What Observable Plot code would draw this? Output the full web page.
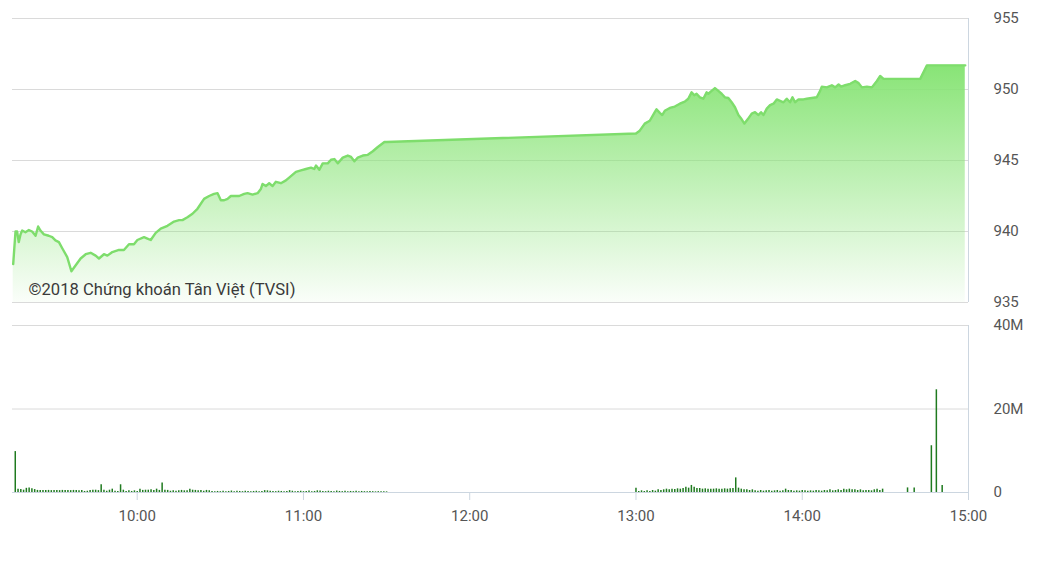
<!DOCTYPE html>
<html><head><meta charset="utf-8">
<script src="https://cdn.jsdelivr.net/npm/d3@7"></script>
<script src="https://cdn.jsdelivr.net/npm/@observablehq/plot@0.6"></script>
<style>
html,body{margin:0;padding:0;background:#fff;}
#chart{position:relative;width:1041px;height:585px;}
#chart svg{display:block;}
svg [aria-label="x-axis tick"]{stroke:#ccd6e0;}
</style></head><body><div id="chart"></div>
<script>
// ---- data ----
const caption = "©2018 Chứng khoán Tân Việt (TVSI)";
const priceTicks = [935, 940, 945, 950, 955];
const volumeTicks = [0, 20, 40];
const hourLabels = ["10:00", "11:00", "12:00", "13:00", "14:00", "15:00"];

const amTimes = ["09:15:15","09:16:05","09:16:40","09:17:15","09:17:55","09:18:30","09:19:40","09:20:55","09:22:05","09:23:20",
"09:24:15","09:25:05","09:26:20","09:28:05","09:29:20","09:30:30","09:31:45","09:33:00","09:34:45","09:36:15",
"09:37:45","09:39:35","09:41:25","09:43:12","09:45:00","09:46:12","09:48:00","09:49:14","09:51:02","09:53:25",
"09:55:13","09:57:02","09:58:50","10:00:04","10:02:28","10:03:41","10:04:53","10:06:41","10:08:30","10:10:55",
"10:13:18","10:15:07","10:16:20","10:18:08","10:19:57","10:21:45","10:24:08","10:25:57","10:27:45","10:29:00",
"10:30:11","10:31:23","10:32:37","10:33:48","10:35:37","10:36:49","10:38:37","10:39:50","10:41:38","10:43:27",
"10:44:38","10:45:15","10:46:27","10:47:38","10:48:52","10:50:03","10:51:52","10:53:40","10:55:29","10:57:17",
"10:59:06","11:00:54","11:02:43","11:03:55","11:04:32","11:05:44","11:06:57","11:08:46","11:09:57","11:11:09",
"11:12:23","11:14:11","11:16:00","11:17:11","11:18:23","11:19:36","11:21:25","11:23:13","11:25:02","11:26:50",
"11:29:13","11:30:00"];
const amPrices = [937.7,940.0,940.0,939.25,939.8,940.07,939.95,940.1,940.0,939.7,
940.35,940.07,939.8,939.7,939.6,939.37,939.25,938.8,938.2,937.2,
937.6,938.1,938.4,938.5,938.3,938.1,938.4,938.3,938.55,938.7,
938.7,939.1,939.1,939.4,939.6,939.5,939.4,939.9,940.2,940.4,
940.7,940.8,940.8,941.0,941.25,941.6,942.3,942.5,942.65,942.7,
942.2,942.2,942.3,942.5,942.5,942.5,942.65,942.7,942.6,942.7,
943.0,943.35,943.2,943.4,943.2,943.5,943.4,943.6,943.9,944.2,
944.3,944.4,944.5,944.4,944.65,944.35,944.8,944.8,945.05,945.1,
944.8,945.2,945.35,945.25,944.95,945.2,945.35,945.4,945.65,945.95,
946.3,946.3];

const pmTimes = ["13:00:00","13:01:22","13:03:10","13:04:59","13:06:47","13:07:24","13:08:36","13:09:28","13:10:24","13:12:13",
"13:14:01","13:15:50","13:17:38","13:18:52","13:20:04","13:21:02","13:21:52","13:23:04","13:24:18","13:25:30",
"13:26:07","13:27:18","13:28:30","13:29:44","13:30:55","13:32:07","13:33:20","13:34:32","13:35:44","13:36:58",
"13:38:09","13:39:08","13:40:19","13:41:46","13:42:58","13:44:12","13:45:08","13:46:00","13:47:12","13:48:24",
"13:49:37","13:50:49","13:52:00","13:53:14","13:54:25","13:55:37","13:56:29","13:57:25","13:58:39","14:00:27",
"14:01:38","14:03:26","14:05:15","14:06:27","14:07:04","14:08:52","14:10:41","14:11:53","14:13:07","14:14:03",
"14:15:30","14:17:19","14:19:07","14:20:21","14:21:32","14:23:20","14:25:08","14:26:57","14:28:08","14:29:22",
"14:31:10","14:42:35","14:45:00","14:58:50"];
const pmPrices = [946.9,947.1,947.6,947.8,948.4,948.6,948.35,948.2,948.5,948.7,
948.8,949.0,949.15,949.35,949.8,949.6,949.7,949.45,949.35,949.8,
949.7,949.9,950.1,949.9,949.7,949.45,949.4,949.1,948.75,948.2,
947.9,947.6,947.9,948.3,948.4,948.2,948.4,948.2,948.65,948.9,
949.0,949.3,949.2,949.1,949.35,949.1,949.45,949.1,949.3,949.3,
949.35,949.4,949.45,949.9,950.2,950.15,950.3,950.15,950.35,950.2,
950.3,950.4,950.6,950.45,950.15,950.2,950.15,950.6,950.95,950.75,
950.75,950.75,951.7,951.7];

// volume in millions, one bar per minute
const amVolumeStart = "09:16";
const amVolume = [9.8,0.8,0.7,0.55,1.0,1.05,0.9,0.7,0.5,0.5,
0.45,0.5,0.5,0.45,0.5,0.5,0.45,0.5,0.45,0.5,
0.45,0.5,0.5,0.4,0.45,0.25,0.3,0.45,0.55,0.55,
0.45,1.85,0.55,0.3,0.55,0.8,0.3,0.25,1.85,0.55,
0.25,0.4,0.25,0.4,0.25,0.8,0.5,0.55,0.55,0.65,
0.5,0.8,0.5,2.3,0.55,0.5,0.3,0.4,0.3,0.4,
0.5,0.4,0.4,0.75,0.55,0.5,0.4,0.5,0.3,0.5,
0.4,0.25,0.2,
0.25,0.2,0.3,0.2,0.25,0.35,0.2,0.3,0.25,0.2,
0.3,0.25,0.2,0.25,0.3,0.2,0.25,0.45,0.4,0.3,
0.25,0.2,0.3,0.25,0.2,0.25,0.45,0.3,0.2,0.25,
0.3,0.2,0.25,0.35,0.2,0.25,0.4,0.35,0.25,0.2,
0.3,0.25,0.2,0.35,0.25,0.2,0.3,0.2,0.25,0.2,
0.3,0.2,0.25,0.2,0.2,0.25,0.2,0.15,0.2,0.15,
0.2,0.15];
const pmVolumeStart = "13:00";
const pmVolume = [1.04,0.24,0.4,0.24,0.4,0.24,0.48,0.32,0.64,0.48,
0.64,0.8,0.64,0.8,0.72,0.88,0.8,0.96,1.28,1.04,
1.69,1.28,0.96,0.96,0.8,0.88,0.8,0.8,0.8,0.88,
0.8,0.8,0.88,0.8,0.88,0.96,3.5,1.04,0.8,0.64,
0.64,0.48,0.64,0.4,0.32,0.48,0.32,0.4,0.48,0.32,
0.4,0.48,0.32,0.4,0.8,0.48,0.48,0.32,0.4,0.32,
0.48,0.4,0.32,0.4,0.32,0.48,0.4,0.32,0.48,0.4,
0.64,0.4,0.48,0.64,0.48,0.8,0.64,0.8,0.64,0.64,
0.48,0.64,0.4,0.48,0.48,0.4,0.64,0.8,0.48,0.8];
const atcTimes = ["14:38:00","14:40:24","14:46:36","14:48:24","14:50:30"];
const atcVolume = [1.1,1.1,11.2,24.6,1.7];

// ---- build ----
const T = s => { const [h, m, sec = 0] = s.split(":").map(Number); return new Date(Date.UTC(2018, 0, 2, h, m, sec)); };
const xDomain = [T("09:15"), T("15:00")];
const hourTicks = hourLabels.map(T);

const price = amTimes.map((s, i) => ({t: T(s), p: amPrices[i]}))
  .concat(pmTimes.map((s, i) => ({t: T(s), p: pmPrices[i]})));
const minute = 60000;
const volume = amVolume.map((v, i) => ({t: new Date(T(amVolumeStart).getTime() + i * minute), v}))
  .concat(pmVolume.map((v, i) => ({t: new Date(T(pmVolumeStart).getTime() + i * minute), v})))
  .concat(atcVolume.map((v, i) => ({t: T(atcTimes[i]), v})));

const style = {fontFamily: "Roboto, sans-serif", fontSize: "15px", color: "#555", background: "transparent"};
const grid = "#dadada", border = "#ccd6e0";

const topPlot = Plot.plot({
  width: 1041, height: 312, marginTop: 18, marginBottom: 10, marginLeft: 12, marginRight: 73,
  style,
  x: {type: "utc", domain: xDomain, axis: null},
  y: {domain: [935, 955], ticks: priceTicks, axis: "right", tickSize: 0, tickPadding: 25, label: null},
  marks: [
    Plot.ruleY(priceTicks, {stroke: grid}),
    Plot.areaY(price, {x: "t", y1: 935, y2: "p", fill: "url(#priceGrad)"}),
    Plot.lineY(price, {x: "t", y: "p", stroke: "#7edd6c", strokeWidth: 2.4}),
    Plot.ruleX([xDomain[1]], {y1: 935, y2: 955, stroke: border}),
    Plot.text([caption], {text: d => d, frameAnchor: "bottom-left", dx: 16, dy: -13, textAnchor: "start", lineAnchor: "middle", fontSize: 16.6, fill: "#3a3a3a"})
  ]
});
// gradient definition for the area fill
const ns = "http://www.w3.org/2000/svg";
const defs = document.createElementNS(ns, "defs");
const lg = document.createElementNS(ns, "linearGradient");
lg.setAttribute("id", "priceGrad");
lg.setAttribute("x1", "0"); lg.setAttribute("y1", "0"); lg.setAttribute("x2", "0"); lg.setAttribute("y2", "1");
[["0", "#88e476", "1"], ["1", "#88e476", "0.04"]].forEach(([o, c, op]) => {
  const st = document.createElementNS(ns, "stop");
  st.setAttribute("offset", o); st.setAttribute("stop-color", c); st.setAttribute("stop-opacity", op);
  lg.appendChild(st);
});
defs.appendChild(lg);
topPlot.insertBefore(defs, topPlot.firstChild);

const bottomPlot = Plot.plot({
  width: 1041, height: 230, marginTop: 13, marginBottom: 50, marginLeft: 12, marginRight: 73,
  style,
  x: {type: "utc", domain: xDomain, ticks: hourTicks, tickFormat: d3.utcFormat("%H:%M"), tickSize: 8, tickPadding: 10, label: null},
  y: {domain: [0, 40], ticks: volumeTicks, axis: "right", tickSize: 0, tickPadding: 25, label: null,
      tickFormat: d => d === 0 ? "0" : d + "M"},
  marks: [
    Plot.ruleY([20, 40], {stroke: grid}),
    Plot.ruleX(volume, {x: "t", y: "v", stroke: "#1f7a1f", strokeWidth: 1.5}),
    Plot.ruleY([0], {stroke: border}),
    Plot.ruleX([xDomain[1]], {y1: 0, y2: 40, stroke: border})
  ]
});

const chart = document.getElementById("chart");
chart.appendChild(topPlot);
chart.appendChild(bottomPlot);
</script>
</body></html>
